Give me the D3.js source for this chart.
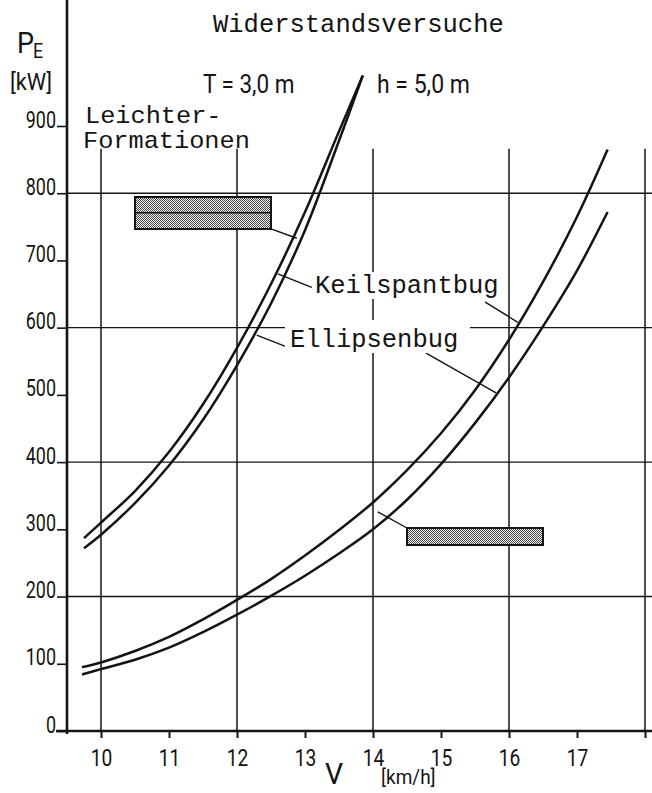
<!DOCTYPE html>
<html>
<head>
<meta charset="utf-8">
<script src="https://cdn.jsdelivr.net/npm/d3@7"></script>
<style>
  html, body { margin: 0; padding: 0; background: #fff; }
  svg { display: block; }
  .mono { font-family: "Liberation Mono", "DejaVu Sans Mono", monospace; }
  .sans { font-family: Roboto, "Liberation Sans", sans-serif; }
</style>
</head>
<body>
<div id="chart"></div>
<script>
// speed V [km/h] and effective power P_E [kW]
var vLeichter = [9.75, 10, 10.5, 11, 11.5, 12, 12.5, 13, 13.5, 13.85];
var peKeilLeichter = [287, 310, 357, 415, 486, 570, 665, 772, 892, 975];
var peEllipseLeichter = [272, 292, 339, 395, 463, 544, 636, 745, 878, 975];

var vEinzel = [9.72, 10, 10.5, 11, 11.5, 12, 12.5, 13, 13.5, 14, 14.5, 15, 15.5, 16, 16.5, 17, 17.45];
var peKeilEinzel = [95, 102, 119, 140, 166, 195, 226, 261, 299, 340, 388, 443, 507, 582, 668, 765, 865];
var peEllipseEinzel = [84, 92, 106, 124, 147, 173, 201, 231, 264, 300, 344, 397, 458, 526, 602, 685, 772];

// hatched range boxes [vFrom, vTo], [peFrom, peTo]
var boxV = [[10.5, 12.5], [14.5, 16.5]];
var boxPe = [[747, 795], [277, 302]];
var boxMid = [771, null];

var xTicks = [10, 11, 12, 13, 14, 15, 16, 17, 18];
var yTicks = [0, 100, 200, 300, 400, 500, 600, 700, 800, 900];
var xGrid = [10, 12, 14, 16, 18];
var yGrid = [200, 400, 600, 800];

// leader lines in data units [v, pe] -> [v, pe]
var leaders = [
  [[12.5, 747], [12.88, 733]],
  [[12.6, 680], [13.1, 660]],
  [[15.65, 638], [16.13, 608]],
  [[12.29, 589], [12.74, 571]],
  [[14.78, 562], [15.81, 503]],
  [[14.07, 326], [14.5, 302]]
];

var W = 652, H = 793;
var ink = "#141414";

var x = d3.scaleLinear().domain([10, 18]).range([101, 645]);
var y = d3.scaleLinear().domain([0, 900]).range([731, 126]);

var svg = d3.select("#chart").append("svg")
    .attr("width", W)
    .attr("height", H);

var defs = svg.append("defs");
var pat = defs.append("pattern")
    .attr("id", "hatch")
    .attr("patternUnits", "userSpaceOnUse")
    .attr("width", 2).attr("height", 2);
pat.append("rect").attr("width", 2).attr("height", 2).attr("fill", "#eeeeee");
pat.append("rect").attr("width", 1).attr("height", 1).attr("fill", "#4a4a4a");
pat.append("rect").attr("x", 1).attr("y", 1).attr("width", 1).attr("height", 1).attr("fill", "#4a4a4a");

// grid
svg.selectAll(".hgrid")
    .data(yGrid)
    .enter().append("line")
    .attr("x1", 67).attr("x2", W)
    .attr("y1", d => y(d)).attr("y2", d => y(d))
    .attr("stroke", ink).attr("stroke-width", 1.4);

svg.selectAll(".vgrid")
    .data(xGrid)
    .enter().append("line")
    .attr("x1", d => x(d)).attr("x2", d => x(d))
    .attr("y1", y(866)).attr("y2", y(0))
    .attr("stroke", ink).attr("stroke-width", 1.5);

// y axis
var yAxis = svg.append("g")
    .attr("transform", "translate(67,0)")
    .call(d3.axisLeft(y).tickValues(yTicks).tickSize(10).tickFormat(d3.format("d")));
yAxis.select(".domain").remove();
yAxis.selectAll(".tick line").attr("stroke", ink).attr("stroke-width", 1.6);
yAxis.selectAll(".tick text")
    .attr("class", "sans")
    .attr("fill", ink)
    .attr("font-size", 23)
    .attr("dy", 0)
    .attr("y", 1)
    .attr("x", -11 / 0.78)
    .attr("transform", "scale(0.78,1)");

// x axis
var xAxis = svg.append("g")
    .attr("transform", "translate(0," + y(0) + ")")
    .call(d3.axisBottom(x).tickValues(xTicks).tickSize(7)
        .tickFormat(d => d === 18 ? "" : d));
xAxis.select(".domain").remove();
xAxis.selectAll(".tick line").attr("stroke", ink).attr("stroke-width", 2);
xAxis.selectAll(".tick text")
    .attr("class", "sans")
    .attr("fill", ink)
    .attr("font-size", 24)
    .attr("dy", 0)
    .attr("y", 35)
    .attr("x", 0)
    .attr("transform", "scale(0.8,1)");

// axis lines
svg.append("line")
    .attr("x1", 67).attr("x2", 67).attr("y1", 0).attr("y2", y(0) + 3)
    .attr("stroke", ink).attr("stroke-width", 2.6);
svg.append("line")
    .attr("x1", 56).attr("x2", W).attr("y1", y(0)).attr("y2", y(0))
    .attr("stroke", ink).attr("stroke-width", 2.4);

// curves
var line = d3.line()
    .x(d => x(d[0]))
    .y(d => y(d[1]))
    .curve(d3.curveCatmullRom.alpha(0.5));

var series = [
  d3.zip(vLeichter, peKeilLeichter),
  d3.zip(vLeichter, peEllipseLeichter),
  d3.zip(vEinzel, peKeilEinzel),
  d3.zip(vEinzel, peEllipseEinzel)
];
svg.selectAll(".curve")
    .data(series)
    .enter().append("path")
    .attr("d", line)
    .attr("fill", "none")
    .attr("stroke", ink)
    .attr("stroke-width", 2.5);

// hatched boxes
svg.selectAll(".box")
    .data(boxV)
    .enter().append("rect")
    .attr("x", d => Math.round(x(d[0])))
    .attr("width", d => Math.round(x(d[1]) - x(d[0])))
    .attr("y", (d, i) => Math.round(y(boxPe[i][1])))
    .attr("height", (d, i) => Math.round(y(boxPe[i][0]) - y(boxPe[i][1])))
    .attr("fill", "url(#hatch)")
    .attr("stroke", ink)
    .attr("stroke-width", 2);

boxMid.forEach(function(m, i) {
    if (m === null) return;
    svg.append("line")
        .attr("x1", x(boxV[i][0])).attr("x2", x(boxV[i][1]))
        .attr("y1", y(m)).attr("y2", y(m))
        .attr("stroke", ink).attr("stroke-width", 1.5);
});

// leaders
svg.selectAll(".leader")
    .data(leaders)
    .enter().append("line")
    .attr("x1", d => x(d[0][0])).attr("y1", d => y(d[0][1]))
    .attr("x2", d => x(d[1][0])).attr("y2", d => y(d[1][1]))
    .attr("stroke", ink).attr("stroke-width", 1.4);

// text helpers
function label(cls, str, px, py, size, sx) {
    sx = sx || 1;
    return svg.append("text")
        .attr("class", cls)
        .attr("transform", "translate(" + px + "," + py + ") scale(" + sx + ",1)")
        .attr("font-size", size)
        .attr("fill", ink)
        .text(str);
}

// white patches where the drawing leaves the grid open for the labels
svg.append("rect").attr("x", 314).attr("y", 272).attr("width", 186).attr("height", 27).attr("fill", "#fff");
svg.append("rect").attr("x", 285).attr("y", 320).attr("width", 185).attr("height", 33).attr("fill", "#fff");

label("mono", "Widerstandsversuche", 213, 32, 25.5);
label("mono", "Leichter-", 85, 123, 23, 1.1);
label("mono", "Formationen", 83, 148, 23, 1.1);
label("mono", "Keilspantbug", 315, 293, 25.5);
label("mono", "Ellipsenbug", 290, 347, 25.5);

label("sans", "T = 3,0 m", 203, 93, 25, 0.9);
label("sans", "h = 5,0 m", 377, 93, 25, 0.92);

label("sans", "P", 17, 53, 30, 0.9);
label("sans", "E", 33, 58, 21, 0.85);
label("sans", "[kW]", 10, 90, 23, 0.95);

label("sans", "V", 325, 784, 30, 0.95);
label("sans", "[km/h]", 381, 784, 20, 0.95);
</script>
</body>
</html>
